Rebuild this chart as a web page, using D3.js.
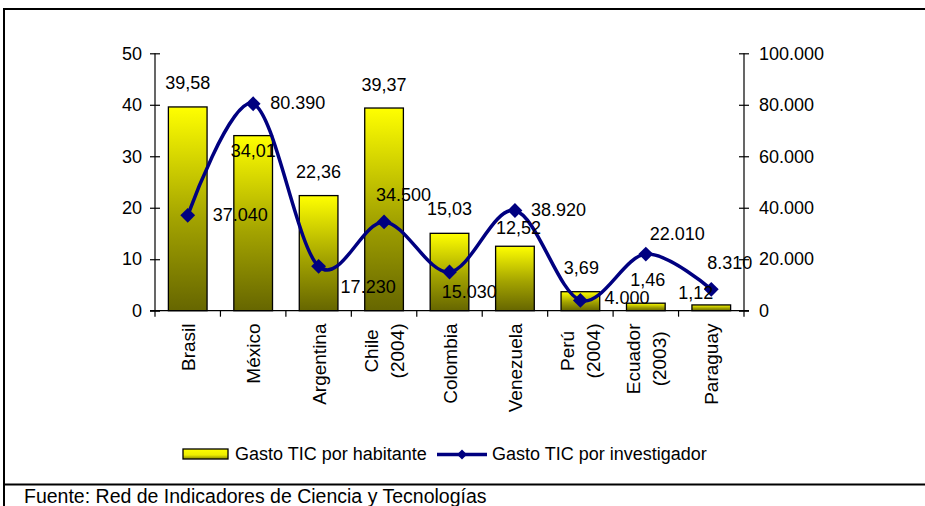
<!DOCTYPE html>
<html>
<head>
<meta charset="utf-8">
<script src="https://cdn.jsdelivr.net/npm/d3@7"></script>
<style>
  html, body { margin: 0; padding: 0; background: #fff; }
  svg { display: block; font-family: "Liberation Sans", Arial, sans-serif; }
</style>
</head>
<body>
<svg id="chart" width="925" height="506"></svg>
<script>
// ---------------- data ----------------
const categories = [
  ["Brasil"], ["México"], ["Argentina"], ["Chile", "(2004)"], ["Colombia"],
  ["Venezuela"], ["Perú", "(2004)"], ["Ecuador", "(2003)"], ["Paraguay"]
];
const gastoPorHabitante = [39.58, 34.01, 22.36, 39.37, 15.03, 12.52, 3.69, 1.46, 1.12];
const gastoPorInvestigador = [37040, 80390, 17230, 34500, 15030, 38920, 4000, 22010, 8310];
const leftTicks = [0, 10, 20, 30, 40, 50];
const rightTicks = [0, 20000, 40000, 60000, 80000, 100000];
const seriesNames = ["Gasto TIC por habitante", "Gasto TIC por investigador"];
const sourceNote = "Fuente: Red de Indicadores de Ciencia y Tecnologías";

// label nudges (pixel offsets of data labels, as placed in the original)
const barLabelNudge = [[0,0],[0,39],[0,0],[0,0.5],[0,-0.5],[3.5,5.5],[1,0],[2,0.5],[-15.5,12]];
const lineLabelNudge = [[25,-0.7],[17,-1.6],[22,20],[-8,-27.4],[-7.7,20],[16,-1],[24,-2.6],[4,-20.4],[-4,-26.8]];

// ---------------- layout ----------------
const svg = d3.select("#chart");
const X0 = 155, X1 = 744, Y0 = 310.7, Y1 = 53.3;
const FS = 18;
const loc = d3.formatLocale({decimal: ",", thousands: ".", grouping: [3], currency: ["", ""]});
const fmtInt = loc.format(",d");
const fmtDec = loc.format(",.2f");

const x = d3.scaleBand().domain(d3.range(categories.length)).range([X0, X1])
  .paddingInner(0.409).paddingOuter(0.2045);
const yL = d3.scaleLinear().domain([0, 50]).range([Y0, Y1]);
const yR = d3.scaleLinear().domain([0, 100000]).range([Y0, Y1]);
const cx = i => x(i) + x.bandwidth() / 2;

// gradient
const defs = svg.append("defs");
const grad = defs.append("linearGradient").attr("id", "barGrad")
  .attr("x1", 0).attr("y1", 0).attr("x2", 0).attr("y2", 1);
grad.append("stop").attr("offset", "0%").attr("stop-color", "#ffff00");
grad.append("stop").attr("offset", "55%").attr("stop-color", "#a3a300");
grad.append("stop").attr("offset", "100%").attr("stop-color", "#666600");
const lgGrad = defs.append("linearGradient").attr("id", "legGrad")
  .attr("x1", 0).attr("y1", 0).attr("x2", 0).attr("y2", 1);
lgGrad.append("stop").attr("offset", "0%").attr("stop-color", "#ffff00");
lgGrad.append("stop").attr("offset", "60%").attr("stop-color", "#eeee00");
lgGrad.append("stop").attr("offset", "100%").attr("stop-color", "#8a8a00");

// frame
svg.append("rect").attr("x", 0).attr("y", 0).attr("width", 925).attr("height", 506).attr("fill", "#fff");
svg.append("line").attr("x1", 3).attr("x2", 925).attr("y1", 9).attr("y2", 9).attr("stroke", "#000").attr("stroke-width", 2);
svg.append("line").attr("x1", 4).attr("x2", 4).attr("y1", 8).attr("y2", 506).attr("stroke", "#000").attr("stroke-width", 2);
svg.append("line").attr("x1", 3).attr("x2", 925).attr("y1", 484.5).attr("y2", 484.5).attr("stroke", "#000").attr("stroke-width", 2);

// bars
svg.append("g").selectAll("rect").data(gastoPorHabitante).join("rect")
  .attr("x", (d, i) => x(i)).attr("width", x.bandwidth())
  .attr("y", d => yL(d)).attr("height", d => Y0 - yL(d))
  .attr("fill", "url(#barGrad)").attr("stroke", "#000").attr("stroke-width", 1.3);

// axes
const axL = svg.append("g").attr("transform", `translate(${X0},0)`)
  .call(d3.axisLeft(yL).tickValues(leftTicks).tickSize(5).tickPadding(8).tickFormat(d3.format("d")));
const axR = svg.append("g").attr("transform", `translate(${X1},0)`)
  .call(d3.axisRight(yR).tickValues(rightTicks).tickSize(5).tickPadding(10).tickFormat(fmtInt));
[axL, axR].forEach(g => {
  g.select(".domain").attr("stroke", "#000").attr("stroke-width", 1.2);
  g.selectAll(".tick line").attr("stroke", "#000").attr("stroke-width", 1.2)
    .attr("x1", -5).attr("x2", 5);
  g.selectAll("text").attr("font-size", FS).attr("fill", "#000")
    .attr("font-family", "Liberation Sans, Arial, sans-serif");
});
axL.select(".domain").attr("d", `M0,${Y1}V${Y0}`);
axR.select(".domain").attr("d", `M0,${Y1}V${Y0}`);
axL.selectAll("text").attr("x", -13);
axR.selectAll("text").attr("x", 15);

// x axis
const xBoundaries = d3.range(categories.length + 1).map(i => X0 + i * x.step());
svg.append("line").attr("x1", X0 - 5).attr("x2", X1 + 5).attr("y1", Y0).attr("y2", Y0)
  .attr("stroke", "#000").attr("stroke-width", 1.2);
svg.append("g").selectAll("line").data(xBoundaries).join("line")
  .attr("x1", d => d).attr("x2", d => d).attr("y1", Y0).attr("y2", Y0 + 6)
  .attr("stroke", "#000").attr("stroke-width", 1.2);

// category labels (rotated)
const catG = svg.append("g").attr("font-size", 19);
categories.forEach((lines, i) => {
  const g = catG.append("g").attr("transform", `translate(${cx(i)},323.5) rotate(-90)`);
  const texts = lines.map(l => g.append("text").text(l).attr("text-anchor", "middle"));
  const W = d3.max(texts, t => t.node().getComputedTextLength());
  const n = lines.length;
  texts.forEach((t, k) => t.attr("x", -W / 2).attr("y", 7 + (k - (n - 1) / 2) * 26));
});

// line series
const line = d3.line().x((d, i) => cx(i)).y(d => yR(d)).curve(d3.curveCardinal.tension(0));
svg.append("path").datum(gastoPorInvestigador).attr("d", line)
  .attr("fill", "none").attr("stroke", "#000080").attr("stroke-width", 3.5);
svg.append("g").selectAll("path").data(gastoPorInvestigador).join("path")
  .attr("d", d3.symbol(d3.symbolSquare, 110))
  .attr("transform", (d, i) => `translate(${cx(i)},${yR(d)}) rotate(45)`)
  .attr("fill", "#000080");

// data labels
svg.append("g").attr("font-size", FS).attr("text-anchor", "middle")
  .selectAll("text").data(gastoPorHabitante).join("text")
  .attr("x", (d, i) => cx(i) + barLabelNudge[i][0])
  .attr("y", (d, i) => yL(d) - 24 + 6.4 + barLabelNudge[i][1])
  .text(d => fmtDec(d));
svg.append("g").attr("font-size", FS).attr("text-anchor", "start")
  .selectAll("text").data(gastoPorInvestigador).join("text")
  .attr("x", (d, i) => cx(i) + lineLabelNudge[i][0])
  .attr("y", (d, i) => yR(d) + 6.4 + lineLabelNudge[i][1])
  .text(d => fmtInt(d));

// legend
const leg = svg.append("g").attr("font-size", FS);
leg.append("rect").attr("x", 183).attr("y", 449).attr("width", 45).attr("height", 10)
  .attr("fill", "url(#legGrad)").attr("stroke", "#000").attr("stroke-width", 1.3);
leg.append("text").attr("x", 235).attr("y", 460).text(seriesNames[0]);
leg.append("line").attr("x1", 437).attr("x2", 487).attr("y1", 454.5).attr("y2", 454.5)
  .attr("stroke", "#000080").attr("stroke-width", 3.5);
leg.append("path").attr("d", d3.symbol(d3.symbolSquare, 50))
  .attr("transform", "translate(462,454.5) rotate(45)").attr("fill", "#000080");
leg.append("text").attr("x", 492).attr("y", 460).text(seriesNames[1]);

// source
svg.append("text").attr("x", 24).attr("y", 503).attr("font-size", 19.5).text(sourceNote);
</script>
</body>
</html>
